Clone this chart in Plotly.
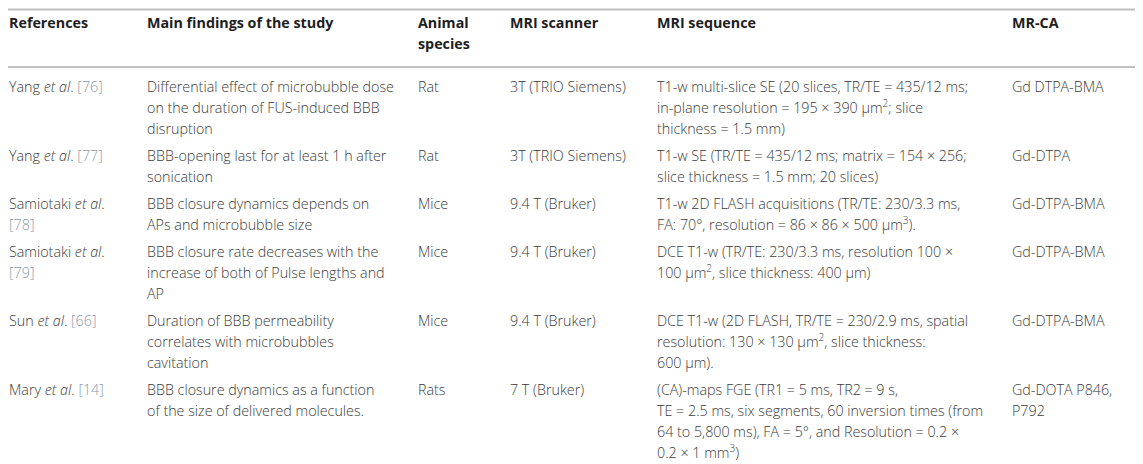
import plotly.graph_objects as go

# table content, one list per column; "<br>" marks the line breaks seen in the picture
headers = ["References", "Main findings of the study", "Animal<br>species",
           "MRI scanner", "MRI sequence", "MR-CA"]

authors = ["Yang", "Yang", "Samiotaki", "Samiotaki", "Sun", "Mary"]
ref_numbers = ["76", "77", "78", "79", "66", "14"]
ref_breaks = [False, False, True, True, False, False]

findings = [
    "Differential effect of microbubble dose<br>on the duration of FUS-induced BBB<br>disruption",
    "BBB-opening last for at least 1 h after<br>sonication",
    "BBB closure dynamics depends on<br>APs and microbubble size",
    "BBB closure rate decreases with the<br>increase of both of Pulse lengths and<br>AP",
    "Duration of BBB permeability<br>correlates with microbubbles<br>cavitation",
    "BBB closure dynamics as a function<br>of the size of delivered molecules.",
]

species = ["Rat", "Rat", "Mice", "Mice", "Mice", "Rats"]

scanners = ["3T (TRIO Siemens)", "3T (TRIO Siemens)", "9.4 T (Bruker)",
            "9.4 T (Bruker)", "9.4 T (Bruker)", "7 T (Bruker)"]

sequences = [
    "T1-w multi-slice SE (20 slices, TR/TE = 435/12 ms;<br>in-plane resolution = 195 × 390 μm<sup>2</sup>; slice<br>thickness = 1.5 mm)",
    "T1-w SE (TR/TE = 435/12 ms; matrix = 154 × 256;<br>slice thickness = 1.5 mm; 20 slices)",
    "T1-w 2D FLASH acquisitions (TR/TE: 230/3.3 ms,<br>FA: 70°, resolution = 86 × 86 × 500 μm<sup>3</sup>).",
    "DCE T1-w (TR/TE: 230/3.3 ms, resolution 100 ×<br>100 μm<sup>2</sup>, slice thickness: 400 μm)",
    "DCE T1-w (2D FLASH, TR/TE = 230/2.9 ms, spatial<br>resolution: 130 × 130 μm<sup>2</sup>, slice thickness:<br>600 μm).",
    "(CA)-maps FGE (TR1 = 5 ms, TR2 = 9 s,<br>TE = 2.5 ms, six segments, 60 inversion times (from<br>64 to 5,800 ms), FA = 5°, and Resolution = 0.2 ×<br>0.2 × 1 mm<sup>3</sup>)",
]

contrast_agents = ["Gd DTPA-BMA", "Gd-DTPA", "Gd-DTPA-BMA", "Gd-DTPA-BMA",
                   "Gd-DTPA-BMA", "Gd-DOTA P846,<br>P792"]

# layout, in page pixels (the page body keeps its default 8px margin)
W, H = 1143, 464
page_margin = 8
col_x = [9, 147, 418, 510, 657, 1012]
rule_y = [9.5, 67]
header_top = 24
header_step = 21
first_row = 88
line_step = 21
row_gap = 27
text_color = "#3a3a3a"
ref_color = "#8a9bab"
rule_color = "#c0c0c0"
font_family = "Open Sans, Liberation Sans, Arial, sans-serif"
font_size = 14.3


def ref_cell(name, num, brk):
    sep = "<br>" if brk else " "
    return "%s <i>et al</i>.%s<span style='color:%s'>[%s]</span>" % (name, sep, ref_color, num)


references = [ref_cell(a, n, b) for a, n, b in zip(authors, ref_numbers, ref_breaks)]
columns = [references, findings, species, scanners, sequences, contrast_agents]

fig = go.Figure()

# horizontal rules across the full width
for yy in rule_y:
    fig.add_shape(type="line", x0=page_margin, x1=W + page_margin, y0=yy, y1=yy,
                  line=dict(color=rule_color, width=2))

# header
hx, hy, ht = [], [], []
for x, h in zip(col_x, headers):
    for k, line in enumerate(h.split("<br>")):
        hx.append(x)
        hy.append(header_top + k * header_step)
        ht.append("<b>" + line + "</b>")
fig.add_trace(go.Scatter(x=hx, y=hy, text=ht, mode="text", textposition="middle right",
                         textfont=dict(family=font_family, size=font_size, color="#1e1e1e"),
                         cliponaxis=False, hoverinfo="skip", showlegend=False))

# body: rows stacked by their number of lines
bx, by, bt = [], [], []
y = first_row
for r in range(len(authors)):
    nlines = 1
    for c, col in enumerate(columns):
        lines = col[r].split("<br>")
        nlines = max(nlines, len(lines))
        for k, line in enumerate(lines):
            bx.append(col_x[c])
            by.append(y + k * line_step)
            bt.append(line)
    y += (nlines - 1) * line_step + row_gap
fig.add_trace(go.Scatter(x=bx, y=by, text=bt, mode="text", textposition="middle right",
                         textfont=dict(family=font_family, size=font_size, color=text_color,
                                       weight=300),
                         cliponaxis=False, hoverinfo="skip", showlegend=False))

fig.update_layout(
    width=W, height=H,
    margin=dict(l=0, r=0, t=0, b=0),
    paper_bgcolor="white", plot_bgcolor="white",
    xaxis=dict(range=[page_margin, W + page_margin], visible=False, fixedrange=True),
    yaxis=dict(range=[H + page_margin, page_margin], visible=False, fixedrange=True),
)

fig.write_html("out.html", config={"displayModeBar": False})
